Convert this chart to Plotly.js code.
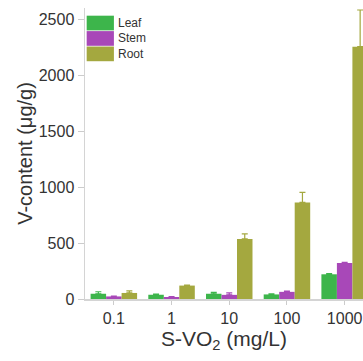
<!DOCTYPE html>
<html>
<head>
<meta charset="utf-8">
<script src="https://cdn.plot.ly/plotly-3.0.1.min.js"></script>
<style>
html,body{margin:0;padding:0;background:#fff;}
#chart{width:363px;height:361px;}
</style>
</head>
<body>
<div id="chart"></div>
<script>
const categories = ["0.1", "1", "10", "100", "1000"];
const seriesNames = ["Leaf", "Stem", "Root"];
const seriesColors = ["#3db54b", "#a848b8", "#a4a83f"];
const leafValues = [47, 38, 47, 41, 221];
const leafErrors = [18, 5, 13, 5, 6];
const stemValues = [23, 18, 37, 64, 322];
const stemErrors = [4, 4, 18, 6, 6];
const rootValues = [54, 120, 537, 864, 2257];
const rootErrors = [18, 4, 45, 90, 328];
const yTicks = [0, 500, 1000, 1500, 2000, 2500];

const values = [leafValues, stemValues, rootValues];
const errors = [leafErrors, stemErrors, rootErrors];
const font = "Liberation Sans, Arial, Helvetica, sans-serif";

const traces = seriesNames.map((name, i) => ({
  type: "bar",
  name: name,
  x: categories,
  y: values[i],
  marker: {color: seriesColors[i], line: {width: 0}},
  error_y: {type: "data", array: errors[i], arrayminus: errors[i].map(() => 0), color: seriesColors[i], thickness: 1.2, width: 3},
  showlegend: false,
  hoverinfo: "skip"
}));

// custom legend built from the series arrays
const shapes = [];
const annotations = [];
const swTop = 0.9736, swH = 0.0505, swGap = 0.0025;
seriesNames.forEach((name, i) => {
  const y1 = swTop - i * (swH + swGap);
  const y0 = y1 - swH;
  shapes.push({type: "rect", xref: "paper", yref: "paper", x0: 0.006, x1: 0.104, y0: y0, y1: y1,
    fillcolor: seriesColors[i], line: {width: 0}});
  annotations.push({xref: "paper", yref: "paper", x: 0.113, y: (y0 + y1) / 2, xanchor: "left", yanchor: "middle",
    text: name, showarrow: false, font: {family: font, size: 12, color: "#333"}});
});

const layout = {
  width: 363, height: 361,
  margin: {l: 85, r: 0, t: 8, b: 61.5, pad: 0},
  paper_bgcolor: "#fff", plot_bgcolor: "#fff",
  barmode: "group", bargap: 0.194, bargroupgap: 0,
  font: {family: font, size: 16, color: "#333"},
  xaxis: {
    type: "category", range: [-0.5, 4.318],
    showline: true, linecolor: "#d4d4d4", linewidth: 1.5,
    ticks: "outside", ticklen: 4, tickcolor: "#cccccc",
    showgrid: false, zeroline: false,
    tickfont: {family: font, size: 16, color: "#333"},
    title: {text: "S-VO<sub>2</sub> (mg/L)", font: {family: font, size: 21, color: "#333"}, standoff: 4}
  },
  yaxis: {
    range: [0, 2603], tickvals: yTicks, ticktext: yTicks.map(String),
    showline: true, linecolor: "#d4d4d4", linewidth: 1.5,
    ticks: "outside", ticklen: 6, tickcolor: "#cccccc",
    showgrid: false, zeroline: false,
    tickfont: {family: font, size: 16, color: "#333"},
    title: {text: "V-content (μg/g)", font: {family: font, size: 20, color: "#333"}, standoff: 0}
  },
  shapes: shapes,
  annotations: annotations
};

Plotly.newPlot("chart", traces, layout, {staticPlot: true, displayModeBar: false});
</script>
</body>
</html>
